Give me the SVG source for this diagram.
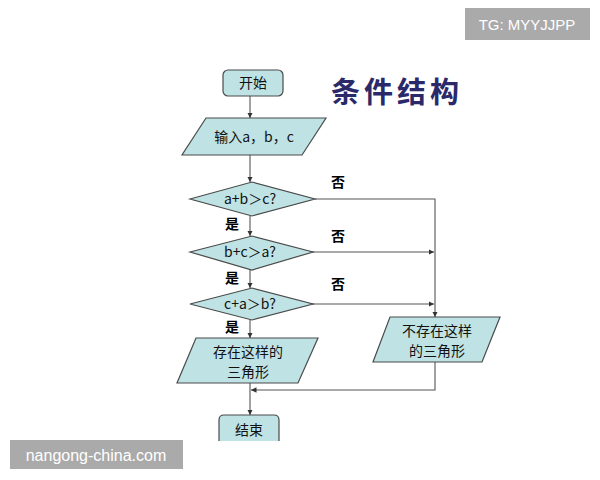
<svg xmlns="http://www.w3.org/2000/svg" width="600" height="480" viewBox="0 0 600 480">
<style>
.n{fill:#bfe3e4;stroke:#4a4a4a;stroke-width:1.2}
.t{font-family:"Noto Sans CJK SC","Liberation Sans",sans-serif;font-size:14px;fill:#111;text-anchor:middle}
.l{font-family:"Noto Sans CJK SC",sans-serif;font-size:14px;font-weight:bold;fill:#000;text-anchor:middle}
.c{fill:none;stroke:#555;stroke-width:1.1}
</style>
<defs><marker id="a" viewBox="0 0 6 6" refX="6" refY="3" markerWidth="5" markerHeight="5" orient="auto"><path d="M0,0L6,3L0,6z" fill="#333"/></marker></defs>
<rect width="600" height="480" fill="#fff"/>
<g id="wm1"><rect x="465" y="8" width="125" height="32" fill="#aaa"/><text x="527" y="30" font-family="Liberation Sans,sans-serif" font-size="15" fill="#fff" text-anchor="middle">TG: MYYJJPP</text></g>
<g id="wm2"><rect x="10" y="440" width="173" height="29" fill="#aaa"/><text x="96" y="461" font-family="Liberation Sans,sans-serif" font-size="16" fill="#fff" text-anchor="middle">nangong-china.com</text></g>
<text x="397" y="103" font-family="Noto Sans CJK SC,serif" font-size="29" font-weight="bold" fill="#2a2a6a" text-anchor="middle" letter-spacing="4">条件结构</text>
<g id="connectors">
<path class="c" d="M250,96V118" marker-end="url(#a)"/>
<path class="c" d="M250,155V182" marker-end="url(#a)"/>
<path class="c" d="M250,216V236" marker-end="url(#a)"/>
<path class="c" d="M250,270V288" marker-end="url(#a)"/>
<path class="c" d="M250,320V338" marker-end="url(#a)"/>
<path class="c" d="M315,199H435V317" marker-end="url(#a)"/>
<path class="c" d="M312,252H434" marker-end="url(#a)"/>
<path class="c" d="M312,304H434" marker-end="url(#a)"/>
<path class="c" d="M435,362V390H251" marker-end="url(#a)"/>
<path class="c" d="M250,383V415" marker-end="url(#a)"/>
</g>
<g id="start"><rect class="n" x="223" y="70" width="60" height="26" rx="5"/><text class="t" x="253" y="88">开始</text></g>
<g id="input"><path class="n" d="M206,118H326L302,155H182z"/><text class="t" x="254" y="142">输入a，b，c</text></g>
<g id="d1"><path class="n" d="M190,199L252,182L315,199L252,216z"/><text class="t" x="250" y="204">a+b＞c?</text></g>
<g id="d2"><path class="n" d="M190,252L252,236L313,252L252,270z"/><text class="t" x="250" y="257">b+c＞a?</text></g>
<g id="d3"><path class="n" d="M190,304L252,288L313,304L252,320z"/><text class="t" x="250" y="309">c+a＞b?</text></g>
<g id="yes"><path class="n" d="M196,338H318L298,383H177z"/><text class="t" x="248" y="357">存在这样的</text><text class="t" x="248" y="377">三角形</text></g>
<g id="no"><path class="n" d="M390,317H500L482,362H373z"/><text class="t" x="437" y="336">不存在这样</text><text class="t" x="437" y="356">的三角形</text></g>
<g id="end"><path class="n" d="M219,441V420Q219,415 224,415H274Q279,415 279,420V441"/><text class="t" x="249" y="435">结束</text></g>
<g id="labels">
<text class="l" x="338" y="187">否</text><text class="l" x="338" y="241">否</text><text class="l" x="338" y="289">否</text>
<text class="l" x="232" y="229">是</text><text class="l" x="232" y="283">是</text><text class="l" x="232" y="332">是</text>
</g>
</svg>
